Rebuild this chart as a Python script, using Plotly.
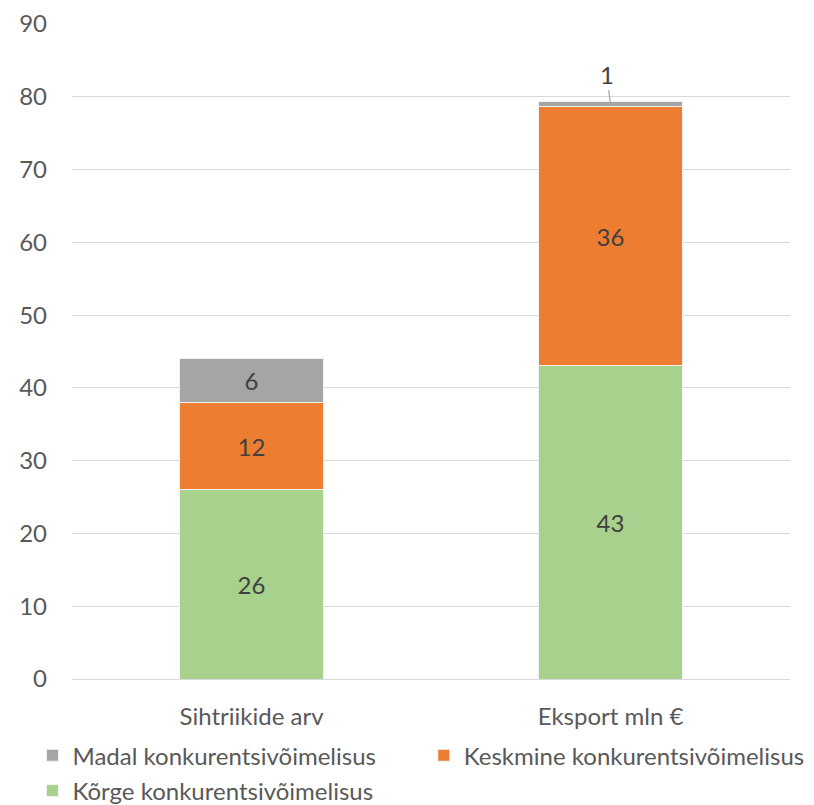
import plotly.graph_objects as go

# Andmed
kategooriad = ["Sihtriikide arv", "Eksport mln €"]
korge = [26, 43.1]
keskmine = [12, 35.5]
madal = [6, 0.8]

varvid = {"korge": "#a9d18e", "keskmine": "#ed7d31", "madal": "#a5a5a5"}
font_pere = "Lato, 'Open Sans', sans-serif"

fig = go.Figure()

# (nimi, väärtused, värv, legend)
seeriad = [
    ("Kõrge konkurentsivõimelisus", korge, varvid["korge"], "legend3"),
    ("Keskmine konkurentsivõimelisus", keskmine, varvid["keskmine"], "legend2"),
    ("Madal konkurentsivõimelisus", madal, varvid["madal"], "legend"),
]

for nimi, vaartused, varv, leg in seeriad:
    # väikese väärtusega lõigu silt tuleb välja (viitejoonega)
    sildid = [f"{round(v)}" if v >= 3 else "" for v in vaartused]
    fig.add_trace(go.Bar(
        x=kategooriad, y=vaartused, name=nimi, legend=leg,
        marker=dict(color=varv, line=dict(color="#f2f2f2", width=1)),
        text=sildid, textposition="inside", insidetextanchor="middle",
        textfont=dict(size=24, color="#404040", family=font_pere),
        width=0.4,
    ))

# "1" silt viitejoonega ekspordi tulba kohal
vaike_y = korge[1] + keskmine[1] + madal[1] / 2
fig.add_annotation(
    x=kategooriad[1], y=vaike_y, text=str(round(madal[1])),
    showarrow=True, arrowhead=0, arrowwidth=1.2, arrowcolor="#a6a6a6",
    ax=-4, ay=-30,
    font=dict(size=24, color="#404040", family=font_pere),
)

leg_font = dict(size=24, color="#595959", family=font_pere)
leg_ühine = dict(orientation="h", xanchor="left", yanchor="middle",
                 font=leg_font, bgcolor="rgba(0,0,0,0)")

# lehel on 8px veeris, seega joonis on veidi väiksem
fig.update_layout(
    barmode="stack",
    width=806, height=797,
    margin=dict(l=64, r=24, t=16, b=126, autoexpand=False),
    plot_bgcolor="white", paper_bgcolor="white",
    font=dict(family=font_pere, size=24, color="#595959"),
    showlegend=True,
    legend=dict(x=-0.055, y=-0.117, **leg_ühine),
    legend2=dict(x=0.49, y=-0.117, **leg_ühine),
    legend3=dict(x=-0.055, y=-0.171, **leg_ühine),
    xaxis=dict(showline=True, linecolor="#d9d9d9", linewidth=1,
               tickfont=dict(size=24, color="#595959"), ticks="",
               ticklabelstandoff=16),
    yaxis=dict(range=[0, 90], dtick=10, gridcolor="#d9d9d9", gridwidth=1,
               zeroline=False, showline=False, ticks="",
               tickfont=dict(size=24, color="#595959"), ticklabelstandoff=24),
)

fig.write_html("out.html")
